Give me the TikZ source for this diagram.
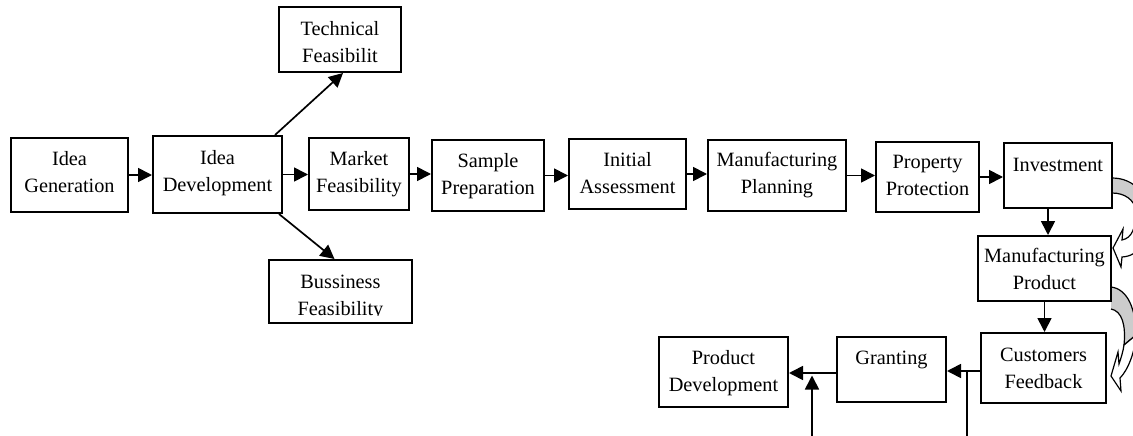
\documentclass[tikz,border=0pt]{standalone}
\usepackage{fontspec}
\setmainfont{Liberation Serif}
\usetikzlibrary{arrows.meta,calc}
\tikzset{
  box/.style={draw, line width=2pt, inner sep=0pt},
  lbl/.style={font=\fontsize{20.3}{27}\selectfont, align=center, inner sep=0pt, anchor=north},
  arr/.style={line width=1.7pt, -{Triangle[length=14pt,width=14pt]}},
  ln/.style={line width=1.7pt},
  bandgray/.style={fill=gray!40, draw=black, line width=1.2pt},
  bandwhite/.style={fill=white, draw=black, line width=1.2pt, line join=miter}
}
\begin{document}
\begin{tikzpicture}[x=1pt,y=-1pt]
\useasboundingbox (0,0) rectangle (1133,436);
\fill[white] (0,0) rectangle (1133,436);

% curved block arrows (drawn first, boxes on top)
\begin{scope}
\clip (0,0) rectangle (1133,436);
\path[bandgray] (1112,178) .. controls (1135,178) and (1148,196) .. (1148,214)
  -- (1136,210) .. controls (1134,200) and (1125,193) .. (1112,193);
\path[bandwhite] (1136,210) .. controls (1136,228) and (1132,238) .. (1122,240)
  -- (1123,229) -- (1113,248) -- (1121,267) -- (1122,257)
  .. controls (1140,256) and (1148,240) .. (1148,214) -- cycle;
\path[bandgray] (1111,287) .. controls (1128,289) and (1136,310) .. (1136,335)
  -- (1124,345) .. controls (1126,325) and (1122,311) .. (1111,309);
\path[bandwhite] (1124,345) .. controls (1123,352) and (1121,358) .. (1119,364)
  -- (1118,352) -- (1111,376) -- (1121,391) -- (1120,378)
  .. controls (1128,370) and (1135,352) .. (1136,335) -- cycle;
\end{scope}

% boxes
\node[box, minimum width=117, minimum height=74] (gen)   at (69.5,175)   {};
\node[box, minimum width=129, minimum height=77] (dev)   at (217.5,174.5) {};
\node[box, minimum width=122, minimum height=65] (tech)  at (340,39.5)   {};
\node[box, minimum width=100, minimum height=72] (mkt)   at (359,174)    {};
\node[box, minimum width=143, minimum height=63] (bus)   at (340.5,291.5) {};
\node[box, minimum width=112, minimum height=71] (samp)  at (488,175.5)  {};
\node[box, minimum width=117, minimum height=70] (init)  at (627.5,174)  {};
\node[box, minimum width=138, minimum height=71] (mplan) at (777,175.5)  {};
\node[box, minimum width=103, minimum height=70] (prop)  at (927.5,177)  {};
\node[box, minimum width=108, minimum height=65] (inv)   at (1058,175.5) {};
\node[box, minimum width=133, minimum height=65] (mprod) at (1044.5,268.5) {};
\node[box, minimum width=129, minimum height=70] (pdev)  at (723.5,372)  {};
\node[box, minimum width=109, minimum height=65] (gran)  at (891.5,369.5) {};
\node[box, minimum width=125, minimum height=70] (cust)  at (1043.5,368) {};

% labels (top aligned)
\node[lbl] (gen-t)   at ($(gen.north)+(0,9)$)   {\strut Idea\\Generation};
\node[lbl] (dev-t)   at ($(dev.north)+(0,10)$)  {\strut Idea\\Development};
\node[lbl] (tech-t)  at ($(tech.north)+(0,10)$) {\strut Technical\\Feasibilit};
\node[lbl] (mkt-t)   at ($(mkt.north)+(0,9)$)   {\strut Market\\Feasibility};
\begin{scope}
\clip (bus.north west) rectangle ($(bus.south east)+(0,-9)$);
\node[lbl] (bus-t)   at ($(bus.north)+(0,10)$)  {\strut Bussiness\\Feasibility};
\end{scope}
\node[lbl] (samp-t)  at ($(samp.north)+(0,9)$)  {\strut Sample\\Preparation};
\node[lbl] (init-t)  at ($(init.north)+(0,9)$)  {\strut Initial\\Assessment};
\node[lbl] (mplan-t) at ($(mplan.north)+(0,8)$) {\strut Manufacturing\\Planning};
\node[lbl] (prop-t)  at ($(prop.north)+(0,8)$)  {\strut Property\\Protection};
\node[lbl] (inv-t)   at ($(inv.north)+(0,10)$)  {\strut Investment};
\node[lbl] (mprod-t) at ($(mprod.north)+(0,8)$) {\strut Manufacturing\\Product};
\node[lbl] (pdev-t)  at ($(pdev.north)+(0,9)$)  {\strut Product\\Development};
\node[lbl] (gran-t)  at ($(gran.north)+(0,9)$)  {\strut Granting};
\node[lbl] (cust-t)  at ($(cust.north)+(0,10)$) {\strut Customers\\Feedback};

% main chain
\draw[arr] (gen.east)   -- (gen.east -| dev.west);
\draw[arr] (dev.east)   -- (dev.east -| mkt.west);
\draw[arr] (mkt.east)   -- (mkt.east -| samp.west);
\draw[arr] (samp.east)  -- (samp.east -| init.west);
\draw[arr] (init.east)  -- (init.east -| mplan.west);
\draw[arr] (mplan.east) -- (mplan.east -| prop.west);
\draw[arr] (prop.east)  -- (prop.east -| inv.west);

% branches
\draw[arr] ($(dev.north east)+(-8,0)$) -- ($(tech.south)+(3,0)$);
\draw[arr] ($(dev.south east)+(-4,0)$) -- ($(bus.north)+(-6,0)$);

% downward chain
\coordinate (ia) at ($(inv.south)+(-10,0)$);
\draw[arr] (ia) -- (ia |- mprod.north);
\draw[arr] (mprod.south) -- (mprod.south |- cust.north);

% bottom row
\coordinate (ca) at ($(cust.west)+(0,3)$);
\draw[arr] (ca) -- (ca -| gran.east);
\coordinate (ga) at ($(gran.west)+(0,3.5)$);
\draw[arr] (ga) -- (ga -| pdev.east);

\coordinate (bot) at (0,436);
\coordinate (j1) at ($(cust.west)+(-13,3)$);
\draw[ln] (j1) -- (j1 |- bot);
\coordinate (u1) at ($(gran.west)+(-24,6)$);
\draw[arr] (u1 |- bot) -- (u1);
\end{tikzpicture}
\end{document}
